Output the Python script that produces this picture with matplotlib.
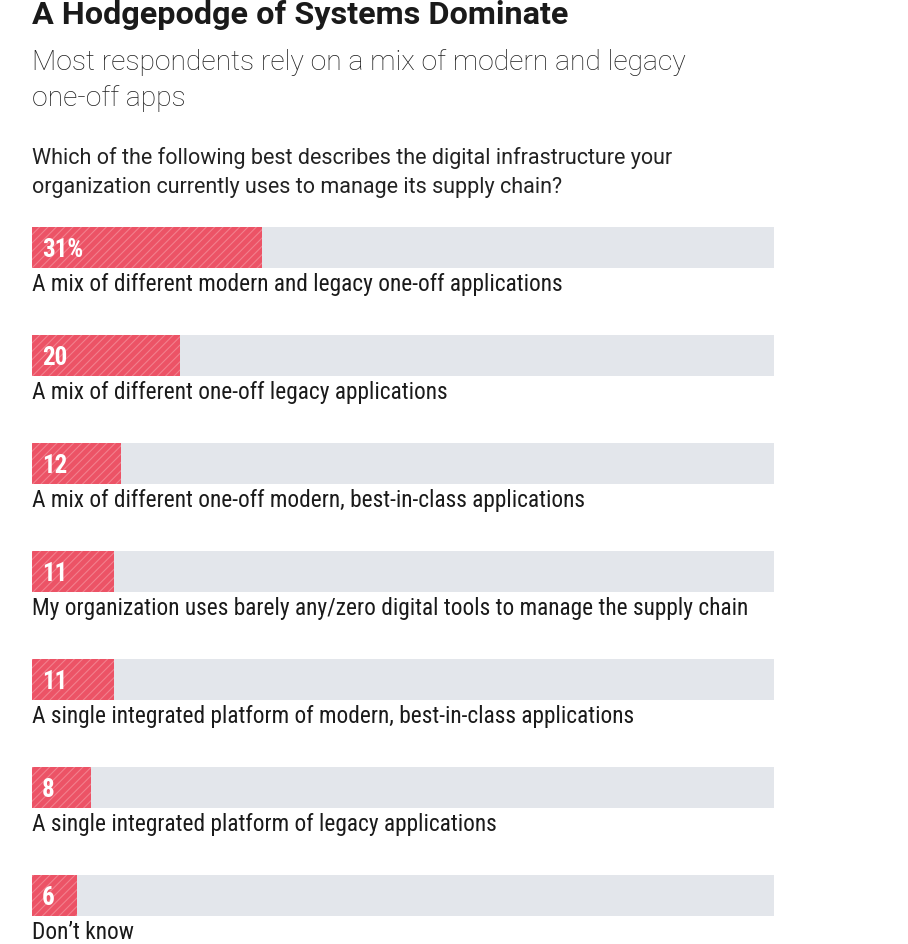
import matplotlib
matplotlib.use('Agg')
import matplotlib.pyplot as plt

# --- données ---
categories = [
    "A mix of different modern and legacy one-off applications",
    "A mix of different one-off legacy applications",
    "A mix of different one-off modern, best-in-class applications",
    "My organization uses barely any/zero digital tools to manage the supply chain",
    "A single integrated platform of modern, best-in-class applications",
    "A single integrated platform of legacy applications",
    "Don\u2019t know",
]
values = [31, 20, 12, 11, 11, 8, 6]
value_labels = ["31%", "20", "12", "11", "11", "8", "6"]

RED = '#EC5366'
TRACK = '#E3E6EB'
COND = ['Roboto Condensed', 'DejaVu Sans']
WIDE = ['Roboto', 'DejaVu Sans']

plt.rcParams['hatch.linewidth'] = 0.8
W, H = 908, 944
fig = plt.figure(figsize=(W / 100, H / 100), dpi=100)

# Titres
fig.text(32 / W, 1 - 15 / H, "A Hodgepodge of Systems Dominate", family=WIDE,
         fontsize=23.3, fontweight='bold', color='#1a1a1a', va='center', ha='left')
fig.text(32 / W, 1 - 63 / H, "Most respondents rely on a mix of modern and legacy",
         family=WIDE, fontsize=20.3, fontweight='light', color='#1e1e1e', va='center', ha='left')
fig.text(32 / W, 1 - 98 / H, "one-off apps",
         family=WIDE, fontsize=20.3, fontweight='light', color='#1e1e1e', va='center', ha='left')
fig.text(32 / W, 1 - 158 / H,
         "Which of the following best describes the digital infrastructure your",
         family=WIDE, fontsize=15.5, color='#222222', va='center', ha='left')
fig.text(32 / W, 1 - 187 / H, "organization currently uses to manage its supply chain?",
         family=WIDE, fontsize=15.5, color='#222222', va='center', ha='left')

# Zone des barres : de y=227 px à y=944 px, pas de 108 px
ax = fig.add_axes([32 / W, 0, 742 / W, (H - 227) / H])
step = 108
bh = 41 / step
ax.set_xlim(0, 100)
ax.set_ylim(-bh / 2 + (H - 227) / step, -bh / 2)

pos = list(range(len(values)))
ax.barh(pos, [100] * len(values), height=bh, color=TRACK, left=0, linewidth=0)
ax.barh(pos, values, height=bh, color=RED, edgecolor='#F2808D', linewidth=0, hatch='////')

for i, (lab, vl) in enumerate(zip(categories, value_labels)):
    ax.text(1.3, i + 0.02, vl, family=COND, fontsize=18, color='white',
            fontweight='bold', va='center', ha='left')
    ax.text(0, i + bh / 2 + 0.05, lab, family=COND, fontsize=16.8, color='#1a1a1a',
            va='top', ha='left', clip_on=False)

ax.axis('off')
fig.savefig('out.png', dpi=100)
